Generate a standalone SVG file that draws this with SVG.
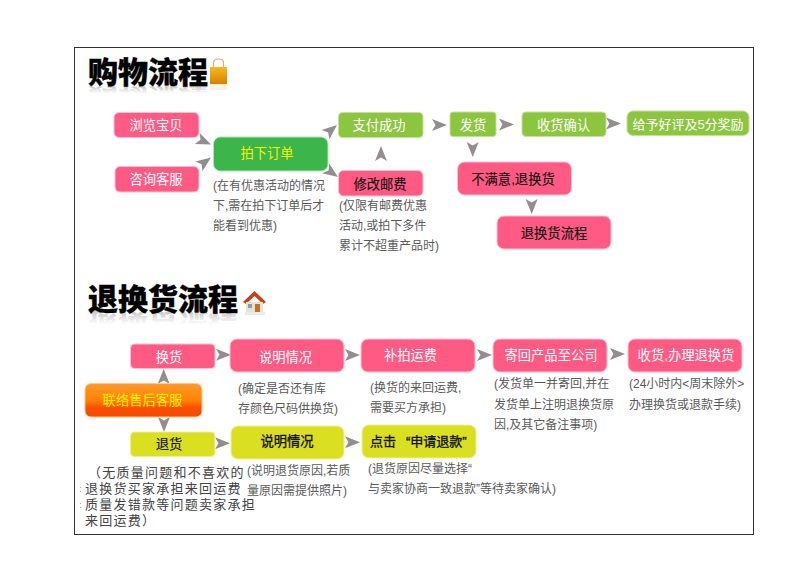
<svg xmlns="http://www.w3.org/2000/svg" xmlns:xlink="http://www.w3.org/1999/xlink" width="790" height="563" viewBox="0 0 790 563">
<style>
text{font-family:"Liberation Sans","Noto Sans CJK SC",sans-serif}
.n{font-size:13.300px;text-anchor:middle}
.w{fill:#fff}.k{fill:#111;stroke:#111;stroke-width:.15}.y{fill:#f8f200}
.p{fill:#ff5a84;stroke:#f7c3d2;stroke-width:1}
.g{fill:#8cc63f;stroke:#c4e09b;stroke-width:1}
.d{fill:#3cb54a;stroke:#b5e0ba;stroke-width:1}
.l{fill:#dadf1f;stroke:#eef09a;stroke-width:1}
.c{font-size:12px;fill:#5a5a5a}
.t{font-size:30px;font-weight:900;fill:#000;stroke:#000;stroke-width:.4}
.r{font-size:30px;font-weight:900;fill:url(#fade)}
.q{font-size:13px;fill:#444;letter-spacing:1.250px}
.a{fill:#948c8e}
.m{fill:#aaa}
</style>
<defs>
<linearGradient id="fade" x1="0" y1="0" x2="0" y2="1"><stop offset=".3" stop-color="#aaa" stop-opacity="0"/><stop offset="1" stop-color="#888" stop-opacity=".7"/></linearGradient>
<linearGradient id="orange" x1="0" y1="0" x2="0" y2="1"><stop offset="0" stop-color="#ff9a2a"/><stop offset=".5" stop-color="#ff8204"/><stop offset=".72" stop-color="#fc4e00"/><stop offset="1" stop-color="#f54a00"/></linearGradient>
<linearGradient id="bag" x1="0" y1="0" x2="0" y2="1"><stop offset="0" stop-color="#f8b820"/><stop offset="1" stop-color="#d98200"/></linearGradient>
<path id="ar" d="M-15,-6 L0,0 L-15,6 L-11.500,0 Z"/>
</defs>
<rect width="790" height="563" fill="#fff"/>
<rect x="74.500" y="47.500" width="679" height="487" fill="#fff" stroke="#333" stroke-width="1"/>

<g id="title-shopping">
<text class="r" x="88" y="83" transform="matrix(1 0 0 -.4 0 120)">购物流程</text>
<text class="t" x="88" y="83">购物流程</text>
<path d="M213.500,68 V63 Q213.500,59 218.500,59 Q223.500,59 223.500,63 V68" fill="none" stroke="#d8b070" stroke-width="1.200"/>
<rect x="210" y="67" width="17" height="17" fill="url(#bag)"/>
<rect x="210" y="84" width="17" height="6" fill="#f7e5c0" opacity=".5"/>
</g>

<g id="title-return">
<text class="r" x="88" y="310" transform="matrix(1 0 0 -.75 0 544.500)">退换货流程</text>
<text class="t" x="88" y="310">退换货流程</text>
<path d="M243,302 L254.500,291 L266,302 L263,304 L254.500,296 L246,304 Z" fill="#c8401c"/>
<rect x="246" y="302" width="17" height="10" fill="#e8e2d0"/>
<rect x="255" y="304" width="5" height="8" fill="#b8742c"/>
<rect x="248" y="304" width="4" height="4" fill="#8aa0a8"/>
<rect x="245" y="312" width="20" height="3" fill="#ddd" opacity=".6"/>
</g>

<g id="connectors" class="a">
<use xlink:href="#ar" href="#ar" transform="translate(211,144.500) rotate(24)"/>
<use xlink:href="#ar" href="#ar" transform="translate(211,157.500) rotate(-36)"/>
<use xlink:href="#ar" href="#ar" transform="translate(337,125) rotate(-40)"/>
<use xlink:href="#ar" href="#ar" transform="translate(338,177) rotate(35)"/>
<use xlink:href="#ar" href="#ar" transform="translate(381,146) rotate(-90)"/>
<use xlink:href="#ar" href="#ar" transform="translate(447,125)"/>
<use xlink:href="#ar" href="#ar" transform="translate(514,124.500)"/>
<use xlink:href="#ar" href="#ar" transform="translate(621,123.500)"/>
<use xlink:href="#ar" href="#ar" transform="translate(472.700,157) rotate(90)"/>
<use xlink:href="#ar" href="#ar" transform="translate(531.700,214) rotate(90)"/>
<use xlink:href="#ar" href="#ar" transform="translate(231,354.700)"/>
<use xlink:href="#ar" href="#ar" transform="translate(360,355)"/>
<use xlink:href="#ar" href="#ar" transform="translate(492,355)"/>
<use xlink:href="#ar" href="#ar" transform="translate(625,354)"/>
<use xlink:href="#ar" href="#ar" transform="translate(163.700,369) rotate(-90)"/>
<use xlink:href="#ar" href="#ar" transform="translate(164,432) rotate(90)"/>
<use xlink:href="#ar" href="#ar" transform="translate(230,443.300)"/>
<use xlink:href="#ar" href="#ar" transform="translate(360,442.300)"/>
</g>

<g id="n-browse"><rect class="p" x="114" y="112.500" width="85" height="25" rx="5"/><text class="n w" x="156" y="130">浏览宝贝</text></g>
<g id="n-consult"><rect class="p" x="115" y="166.500" width="84" height="25.500" rx="5"/><text class="n w" x="156" y="184">咨询客服</text></g>
<g id="n-order"><rect class="d" x="213.500" y="137" width="114.500" height="34" rx="7"/><text class="n y" x="267" y="158">拍下订单</text><text class="c" x="213" y="190">(在有优惠活动的情况</text><text class="c" x="213" y="210">下,需在拍下订单后才</text><text class="c" x="213" y="230">能看到优惠)</text></g>
<g id="n-paid"><rect class="g" x="338.500" y="112.500" width="84.500" height="25" rx="4"/><text class="n w" x="379" y="130">支付成功</text></g>
<g id="n-postage"><rect class="p" x="338.500" y="170.500" width="84.500" height="25.500" rx="5"/><text class="n k" x="380" y="188.500">修改邮费</text><text class="c" x="339" y="210">(仅限有邮费优惠</text><text class="c" x="339" y="230">活动,或拍下多件</text><text class="c" x="339" y="250">累计不超重产品时)</text></g>
<g id="n-ship"><rect class="g" x="450" y="112" width="46" height="24.500" rx="3"/><text class="n w" x="473" y="129.500">发货</text></g>
<g id="n-receive"><rect class="g" x="522" y="112" width="84" height="24.500" rx="4"/><text class="n w" x="563.500" y="129.500">收货确认</text></g>
<g id="n-review"><rect class="g" x="627" y="111" width="122" height="24.500" rx="6"/><text class="n w" style="font-size:13px" x="688" y="128.500">给予好评及5分奖励</text></g>
<g id="n-unhappy"><rect class="p" x="457.500" y="162" width="114" height="33" rx="7"/><text class="n k" x="513" y="184">不满意,退换货</text></g>
<g id="n-flow"><rect class="p" x="497" y="216" width="114" height="33" rx="7"/><text class="n k" x="554" y="238">退换货流程</text></g>

<g id="n-exchange"><rect class="p" x="130.500" y="344" width="84.500" height="24.500" rx="4"/><text class="n w" x="169" y="362">换货</text></g>
<g id="n-explain1"><rect class="p" x="230" y="339" width="114" height="33" rx="7"/><text class="n w" x="285.500" y="362">说明情况</text><text class="c" x="238" y="393">(确定是否还有库</text><text class="c" x="238" y="413">存颜色尺码供换货)</text></g>
<g id="n-topup"><rect class="p" x="361" y="339" width="114" height="33" rx="7"/><text class="n w" x="410.500" y="360">补拍运费</text><text class="c" x="370" y="392">(换货的来回运费,</text><text class="c" x="370" y="412">需要买方承担)</text></g>
<g id="n-sendback"><rect class="p" x="493" y="339" width="114" height="33" rx="7"/><text class="n w" x="551" y="360">寄回产品至公司</text><text class="c" x="494" y="388">(发货单一并寄回,并在</text><text class="c" x="494" y="409">发货单上注明退换货原</text><text class="c" x="494" y="429">因,及其它备注事项)</text></g>
<g id="n-process"><rect class="p" x="628" y="339" width="114" height="33" rx="7"/><text class="n w" x="686" y="360">收货,办理退换货</text><text class="c" x="629" y="388">(24小时内&lt;周末除外&gt;</text><text class="c" x="629" y="409">办理换货或退款手续)</text></g>
<g id="n-contact"><rect x="85" y="383.500" width="117" height="33.500" rx="6" fill="url(#orange)" stroke="#ffc890" stroke-width="1"/><text class="n" fill="#fff200" x="142.500" y="405">联络售后客服</text></g>
<g id="n-refund"><rect class="l" x="130.500" y="432" width="84.500" height="24.500" rx="4"/><text class="n k" x="169" y="449">退货</text><text class="q" x="88" y="477">（无质量问题和不喜欢的</text><text class="q" x="85" y="493">退换货买家承担来回运费</text><text class="q" x="85" y="509">质量发错款等问题卖家承担</text><text class="q" x="85" y="525">来回运费）</text><rect class="m" x="80" y="487" width="1" height="1"/><rect class="m" x="80" y="491" width="1" height="1"/><rect class="m" x="80" y="503" width="1" height="1"/><rect class="m" x="80" y="507" width="1" height="1"/></g>
<g id="n-explain2"><rect class="l" x="231" y="426" width="113" height="33" rx="7"/><text class="n k" style="stroke-width:.35" x="287" y="446">说明情况</text><text class="c" x="247" y="475">(说明退货原因,若质</text><text class="c" x="247" y="495">量原因需提供照片)</text></g>
<g id="n-apply"><rect class="l" x="362" y="425" width="114" height="33" rx="7"/><text class="k" style="stroke-width:.35" x="370" y="446" font-size="13">点击</text><text class="k" style="stroke-width:.35" x="406" y="446" font-size="13">“申请退款”</text><text class="c" x="368" y="473">(退货原因尽量选择“</text><text class="c" x="368" y="493">与卖家协商一致退款”等待卖家确认)</text></g>
</svg>
